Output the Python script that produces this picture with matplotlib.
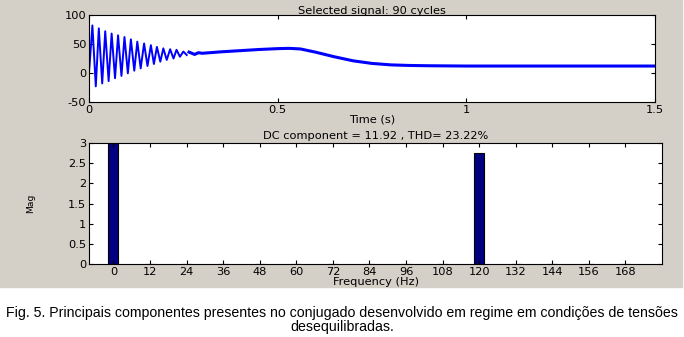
import numpy as np
import matplotlib.pyplot as plt
from matplotlib.patches import Rectangle

plt.rcParams['axes.unicode_minus'] = False

# --- data ---
# transient: peaks and troughs of the decaying oscillation (time s, torque)
peak_t = [0.009, 0.026, 0.043, 0.060, 0.077, 0.094, 0.111, 0.128, 0.146, 0.164,
          0.180, 0.197, 0.215, 0.232, 0.250]
peak_v = [82, 77, 72, 68, 65, 62, 58, 54, 51, 48, 45, 42.5, 41, 40, 37]
trough_t = [0.018, 0.035, 0.052, 0.069, 0.086, 0.103, 0.120, 0.137, 0.155, 0.172,
            0.189, 0.206, 0.224, 0.241, 0.259]
trough_v = [-23, -18, -14, -9, -5, -0.5, 4, 8, 12, 15.5, 19.5, 22.5, 25, 28, 31]

# slow part after the transient (mean of the small ripple band)
slow_t = [0.265, 0.28, 0.29, 0.30, 0.35, 0.40, 0.45, 0.50, 0.53, 0.56, 0.60,
          0.65, 0.70, 0.75, 0.80, 0.85, 0.90, 1.00, 1.10, 1.20, 1.30, 1.40, 1.50]
slow_v = [36, 32, 35, 34, 36.5, 38.5, 40.5, 42, 42.5, 41.5, 36,
          28, 21, 16.5, 14, 13, 12.5, 12, 12, 12, 12, 12, 12]

# spectrum
freqs = [0, 12, 24, 36, 48, 60, 72, 84, 96, 108, 120, 132, 144, 156, 168]
mags = [11.92, 0.01, 0.01, 0.01, 0.01, 0.01, 0.01, 0.01, 0.01, 0.01, 2.76,
        0.01, 0.01, 0.01, 0.01]

title_top = 'Selected signal: 90 cycles'
title_bot = 'DC component = 11.92 , THD= 23.22%'
caption = ('Fig. 5. Principais componentes presentes no conjugado desenvolvido em regime '
           'em condições de tensões\ndesequilibradas.')

W, H = 684, 337
fig = plt.figure(figsize=(W / 100, H / 100), dpi=100)
fig.patches.append(Rectangle((0, 1 - 287 / H), 682 / W, 287 / H,
                             transform=fig.transFigure, color='#d4d0c8', zorder=-1))

fs = 8.2

def style(ax):
    ax.tick_params(direction='in', top=True, right=True, length=3, width=0.8,
                   labelsize=fs, pad=2)
    for s in ax.spines.values():
        s.set_linewidth(0.8)

# top: time signal
ax1 = fig.add_axes([89 / W, 1 - 102 / H, (655 - 89) / W, (102 - 15) / H])
ext = sorted(zip(peak_t + trough_t, peak_v + trough_v))
osc_t = [0] + [p[0] for p in ext]
osc_v = [0] + [p[1] for p in ext]
ax1.plot(osc_t, osc_v, color='#0000ff', lw=1.4)
ax1.plot(slow_t, slow_v, color='#0000ff', lw=2.2)
ax1.set_xlim(0, 1.5)
ax1.set_ylim(-50, 100)
ax1.set_xticks([0, 0.5, 1, 1.5])
ax1.set_xticklabels(['0', '0.5', '1', '1.5'])
ax1.set_yticks([-50, 0, 50, 100])
ax1.set_title(title_top, fontsize=fs, pad=1)
ax1.set_xlabel('Time (s)', fontsize=fs, labelpad=0)
style(ax1)

# bottom: spectrum
ax2 = fig.add_axes([89 / W, 1 - 264 / H, (662 - 89) / W, (264 - 143) / H])
ax2.bar(freqs, mags, width=3.3, color='#000080', edgecolor='black', linewidth=0.8)
ax2.set_xlim(-8, 180)
ax2.set_ylim(0, 3)
ax2.set_xticks(freqs)
ax2.set_yticks([0, 0.5, 1, 1.5, 2, 2.5, 3])
ax2.set_yticklabels(['0', '0.5', '1', '1.5', '2', '2.5', '3'])
ax2.set_title(title_bot, fontsize=fs, pad=3)
ax2.set_xlabel('Frequency (Hz)', fontsize=fs, labelpad=0)
ax2.set_ylabel('Mag', fontsize=fs - 1.5, labelpad=24)
style(ax2)

fig.text(0.5, 1 - 320 / H, caption, ha='center', va='center', fontsize=10.2,
         family='Liberation Sans', linespacing=1.05)

fig.savefig('out.png', dpi=100)
